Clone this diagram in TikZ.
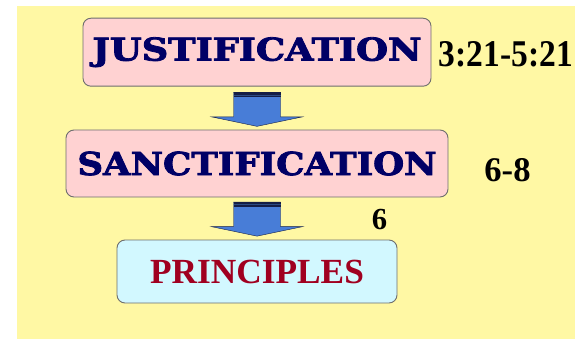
\documentclass[tikz,border=0pt]{standalone}
\usepackage{fontspec}
\usepackage{graphicx}
\usepackage{tikz}
\setmainfont{Liberation Serif}
\newfontfamily\heavyfont[BoldFeatures={FakeBold=2.5}]{DejaVu Serif}

\definecolor{sheet}{RGB}{255,248,164}
\definecolor{pinkfill}{RGB}{255,210,210}
\definecolor{cyanfill}{RGB}{210,248,255}
\definecolor{boxline}{RGB}{110,110,110}
\definecolor{navytext}{RGB}{0,0,102}
\definecolor{redtext}{RGB}{160,0,32}
\definecolor{arrowblue}{RGB}{72,125,215}
\definecolor{arrowdark}{RGB}{20,30,70}

\tikzset{
    stagebox/.style={draw=boxline, line width=0.9pt, rounded corners=8pt, inner sep=0pt},
    refnum/.style={inner sep=0pt, font=\bfseries},
    pics/downarrow/.style={code={
        \fill[arrowblue, draw=arrowdark, line width=0.4pt]
            (-23.5,0) -- (23.5,0) -- (23.5,24.5) -- (45.5,24.5) -- (0,34)
            -- (-45.5,24.5) -- (-23.5,24.5) -- cycle;
        \fill[arrowdark] (-23.5,0) rectangle (23.5,5);
        \draw[arrowblue!60!black, line width=0.6pt] (-23.5,2.5) -- (23.5,2.5);
    }}
}

\begin{document}
\begin{tikzpicture}[x=1pt,y=-1pt]
    \useasboundingbox (0,0) rectangle (575,339);
    \fill[sheet] (16.7,6) rectangle (575,339);

    % the three stages
    \node[stagebox, fill=pinkfill, minimum width=348pt, minimum height=68pt] (just) at (257,52.2)
        {\color{navytext}\heavyfont\bfseries\resizebox{329pt}{23.3pt}{JUSTIFICATION}};
    \node[stagebox, fill=pinkfill, minimum width=382pt, minimum height=67pt] (sanct) at (257,163.5)
        {\color{navytext}\heavyfont\bfseries\resizebox{359pt}{23.5pt}{SANCTIFICATION}};
    \node[stagebox, fill=cyanfill, minimum width=280pt, minimum height=63pt] (princ) at (257,271.5)
        {\color{redtext}\bfseries\fontsize{35.3}{40}\selectfont\raisebox{-3.5pt}{PRINCIPLES}};

    % arrows between stages
    \pic at ([yshift=-5.7pt]just.south) {downarrow};
    \pic at ([yshift=-4.7pt]sanct.south) {downarrow};

    % chapter references
    \node[refnum] (refjust) at (506,54.2) {\resizebox{134pt}{25pt}{3:21-5:21}};
    \node[refnum] (refsanct) at (507.5,170) {\fontsize{34.6}{40}\selectfont 6-8};
    \node[refnum] (refsix) at (379.5,219.7) {\fontsize{30.6}{36}\selectfont 6};
\end{tikzpicture}
\end{document}
